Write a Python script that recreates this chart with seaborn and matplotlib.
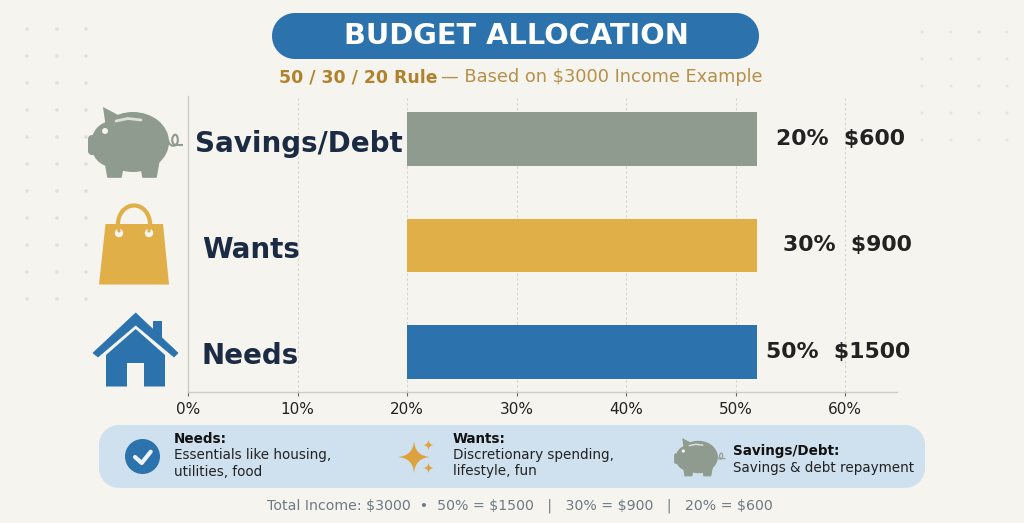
import numpy as np
import pandas as pd
import matplotlib
matplotlib.use("Agg")
import matplotlib.pyplot as plt
import seaborn as sns
from matplotlib.patches import Polygon, Ellipse, Circle, Arc, PathPatch
from matplotlib.path import Path
from matplotlib.transforms import ScaledTranslation

categories = ["Savings/Debt", "Wants", "Needs"]
bar_starts = [20, 20, 20]
bar_lengths = [32, 32, 32]
percents = ["20%", "30%", "50%"]
dollars = ["\\$600", "\\$900", "\\$1500"]
xticks = [0, 10, 20, 30, 40, 50, 60]

BG = "#F6F4EF"
BLUE = "#2C72AC"
GOLD = "#E0AF48"
SAGE = "#8E9B8E"
NAVY = "#1B2B44"
DARK = "#222222"

sns.set_theme(style="white")
plt.rcParams["font.family"] = ["DejaVu Sans"]

W, H = 1024, 523
fig = plt.figure(figsize=(W / 100, H / 100), dpi=100, facecolor=BG)

# pixel overlay below the chart
bg = fig.add_axes([0, 0, 1, 1], zorder=0)
bg.set_xlim(0, W); bg.set_ylim(H, 0); bg.axis("off")

for x in [27, 57, 86]:
    for y in range(29, 300, 27):
        bg.add_patch(Circle((x, y), 1.8, fc="#E2E0DB", ec="none"))
for x in [922, 951, 979, 1007]:
    for y in range(32, 150, 27):
        bg.add_patch(Circle((x, y), 1.5, fc="#E6E4DF", ec="none"))

# main chart
ax = fig.add_axes([188 / W, 1 - 392 / H, (897 - 188) / W, (392 - 96) / H], zorder=1)
ax.patch.set_alpha(0)
df = pd.DataFrame({"category": categories, "start": bar_starts, "length": bar_lengths})
sns.barplot(data=df, x="length", y="category", hue="category", left=df["start"].values,
            palette=[SAGE, GOLD, BLUE], width=0.5, orient="h", legend=False,
            saturation=1, ax=ax, zorder=2, linewidth=0, edgecolor="none")
ax.set_xlim(0, (897 - 188) / 10.95)
ax.set_ylim(2 + 40 / 106.5, -43 / 106.5)
ax.set_xlabel(""); ax.set_ylabel("")
ax.set_xticks(xticks)
ax.set_xticklabels([f"{t}%" for t in xticks], fontsize=11, color=DARK)
ax.tick_params(axis="x", length=3, width=0.8, color="#666666", pad=4.5, bottom=True)
ax.grid(axis="x", color="#D4D2CD", linestyle=(0, (2.5, 2.5)), linewidth=0.7, zorder=0)
ax.set_axisbelow(True)
for s in ["top", "right"]:
    ax.spines[s].set_visible(False)
for s in ["left", "bottom"]:
    ax.spines[s].set_color("#CCCCC8")
    ax.spines[s].set_linewidth(1.0)

ax.tick_params(axis="y", length=0, pad=0)
label_x = [7 / 709, 14 / 709, 14 / 709]
down = ScaledTranslation(0, -1.5 / 100, fig.dpi_scale_trans)
for lab, lx in zip(ax.get_yticklabels(), label_x):
    lab.set_ha("left")
    lab.set_x(lx)
    lab.set_fontsize(20)
    lab.set_fontweight("bold")
    lab.set_color(NAVY)
    lab.set_transform(lab.get_transform() + down)

value_px = [840.5, 847, 838.5]
for i, (p, d) in enumerate(zip(percents, dollars)):
    ax.text((value_px[i] - 188) / 10.95, i, f"{p}  {d}", ha="center", va="center",
            fontsize=15.8, fontweight="bold", color=DARK)

# overlay for header, icons, legend
ov = fig.add_axes([0, 0, 1, 1], zorder=2)
ov.set_xlim(0, W); ov.set_ylim(H, 0); ov.axis("off"); ov.patch.set_alpha(0)


def pill(x0, y0, x1, y1, r, color):
    t = np.linspace(0, np.pi / 2, 24)
    c, s = np.cos(t), np.sin(t)
    xs = np.r_[x1 - r + r * c, x0 + r - r * s, x0 + r - r * c, x1 - r + r * s]
    ys = np.r_[y1 - r + r * s, y1 - r + r * c, y0 + r - r * s, y0 + r - r * c]
    ov.add_patch(Polygon(np.c_[xs, ys], fc=color, ec="none"))


def piggy(cx, cy, s, c=SAGE, hole=BG):
    def P(x, y):
        return (cx + (x - 135) * s, cy + (y - 142) * s)
    ov.add_patch(Ellipse(P(133, 142), 72 * s, 60 * s, fc=c, ec="none"))
    ov.add_patch(Ellipse(P(112, 144), 42 * s, 46 * s, fc=c, ec="none"))
    a, b = P(88, 135), P(102, 155)
    pill(a[0], a[1], b[0], b[1], 4 * s, c)
    for x0 in (107, 142):
        ov.add_patch(Polygon([P(x0 - 2, 160), P(x0 + 1, 177), P(x0 + 14, 177), P(x0 + 17, 160)],
                             fc=c, ec=c, lw=1.2 * s, joinstyle="round"))
    ov.add_patch(Polygon([P(103, 107), P(120, 116), P(106, 128)], fc=c, ec="none"))
    ov.add_patch(Circle(P(105, 131), 3 * s, fc=hole, ec="none"))
    ov.plot(*zip(P(116, 121), P(128, 118.5), P(141, 120)), color="#DDE0D8", lw=2.0 * s,
            solid_capstyle="round")
    tail = Path([P(168, 140), P(170, 150), P(181, 146), P(177, 136),
                 P(174, 131), P(169, 142), P(175, 145), P(183, 145)],
                [Path.MOVETO, Path.CURVE4, Path.CURVE4, Path.CURVE4,
                 Path.CURVE4, Path.CURVE4, Path.CURVE4, Path.LINETO])
    ov.add_patch(PathPatch(tail, fc="none", ec=c, lw=1.5 * s))


def sparkle(cx, cy, r, col):
    k = 0.05 * r
    tips = [(r, 0), (0, r), (-r, 0), (0, -r)]
    ctrl = [(k, k), (-k, k), (-k, -k), (k, -k)]
    v = [tips[0]]
    codes = [Path.MOVETO]
    for i in range(4):
        v += [ctrl[i], tips[(i + 1) % 4]]
        codes += [Path.CURVE3, Path.CURVE3]
    v = [(cx + a, cy + b) for a, b in v]
    ov.add_patch(PathPatch(Path(v, codes), fc=col, ec="none"))


# header
pill(272, 13, 759, 59, 23, BLUE)
ov.text(516, 36, "BUDGET ALLOCATION", ha="center", va="center", color="white",
        fontsize=20.8, fontweight="bold")
ov.text(279, 77, "50 / 30 / 20 Rule", ha="left", va="center", color="#B0822E",
        fontsize=12.4, fontweight="bold")
ov.text(441, 77, "— Based on \\$3000 Income Example", ha="left", va="center", color="#B5904A",
        fontsize=12.8)

# icons
piggy(135, 142, 1.0)
ov.add_patch(Polygon([(99, 284.5), (169, 284.5), (163, 224), (105.5, 224)], fc=GOLD, ec="none"))
ov.add_patch(Arc((134, 224), 32, 37, theta1=180, theta2=360, ec=GOLD, lw=3))
for x, xt in ((119, 118), (149, 150)):
    ov.add_patch(Circle((x, 233), 4.2, fc=BG, ec="none"))
    ov.plot([xt, x], [224, 231], color=GOLD, lw=2.2)
ov.add_patch(Polygon([(153, 321), (162, 321), (162, 346), (153, 339)], fc=BLUE, ec="none"))
ov.add_patch(Polygon([(93, 353), (135.7, 313), (178, 353), (174, 357), (135.7, 325), (98, 357)],
                     fc=BLUE, ec=BLUE, lw=0.5, joinstyle="round"))
ov.add_patch(Polygon([(106, 355), (135.7, 329), (165, 355), (165, 386.5), (144, 386.5), (144, 363),
                      (127, 363), (127, 386.5), (106, 386.5)], fc=BLUE, ec="none"))

# legend panel
pill(99, 425, 925, 488, 20, "#CFE0EE")
ov.add_patch(Circle((142.5, 456.5), 17.5, fc=BLUE, ec="none"))
ov.plot([135, 141.7, 150.7], [457, 463, 451.7], color="#EEF3F7", lw=3,
        solid_capstyle="round", solid_joinstyle="round")
sparkle(414, 457, 16.5, "#DDA23E")
sparkle(428.5, 445, 5.5, "#DDA23E")
sparkle(428.5, 468, 5.5, "#DDA23E")
piggy(699.5, 457, 0.54)

FS = 9.75
ov.text(174, 439, "Needs:", fontsize=FS, fontweight="bold", color="#111111", va="center")
ov.text(174, 455, "Essentials like housing,", fontsize=FS, color="#222222", va="center")
ov.text(174, 471.5, "utilities, food", fontsize=FS, color="#222222", va="center")
ov.text(453, 439, "Wants:", fontsize=FS, fontweight="bold", color="#111111", va="center")
ov.text(453, 455, "Discretionary spending,", fontsize=FS, color="#222222", va="center")
ov.text(453, 471.5, "lifestyle, fun", fontsize=FS, color="#222222", va="center")
ov.text(733, 451, "Savings/Debt:", fontsize=FS, fontweight="bold", color="#111111", va="center")
ov.text(733, 468, "Savings & debt repayment", fontsize=FS, color="#222222", va="center")

ov.text(520, 506, "Total Income: \\$3000  •  50% = \\$1500   |   30% = \\$900   |   20% = \\$600",
        ha="center", va="center", fontsize=10.2, color="#6E7A84")

fig.savefig("out.png", dpi=100, facecolor=BG)
